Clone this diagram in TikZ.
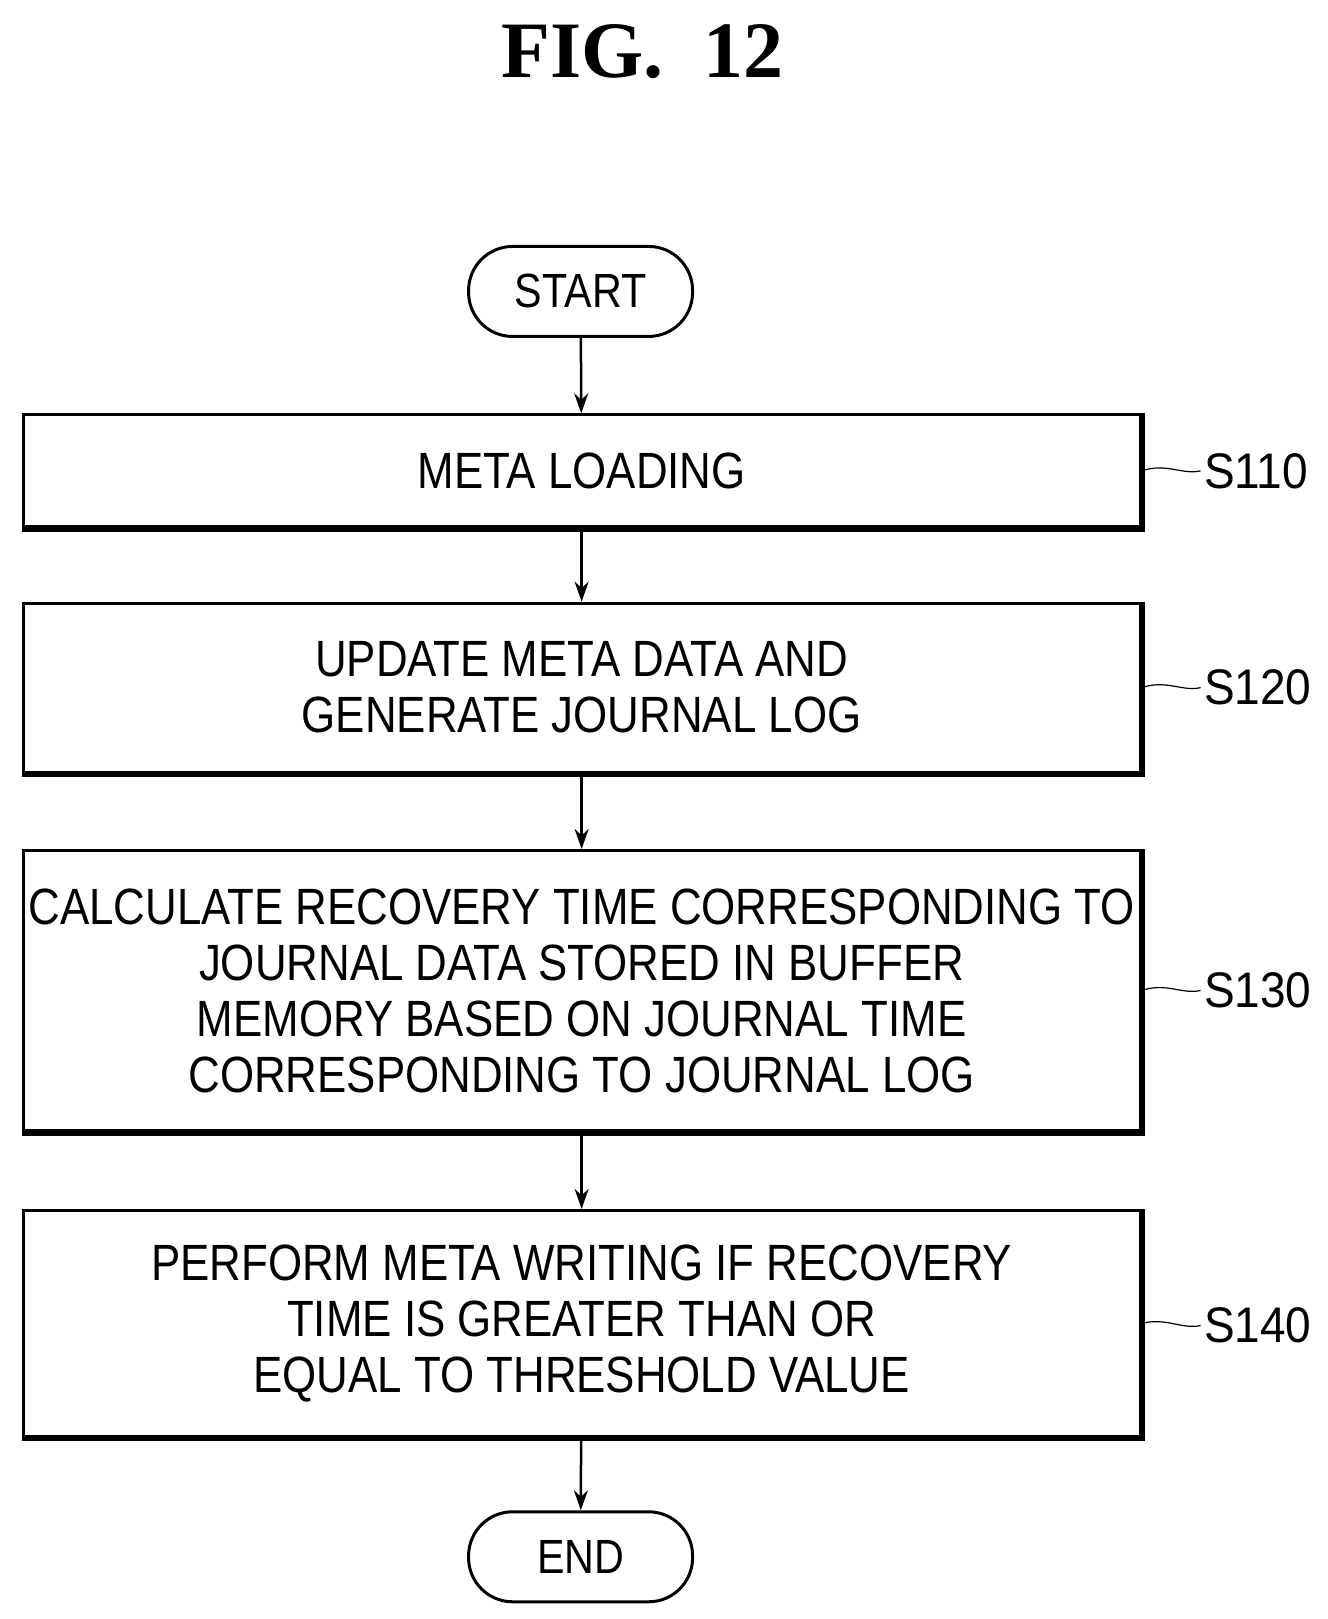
\documentclass[tikz,border=0pt]{standalone}
\usetikzlibrary{arrows.meta}
\usepackage{fontspec}
\setmainfont{Liberation Sans}[FakeStretch=0.86]
\newfontfamily\labfont{Liberation Sans}[FakeStretch=0.92]
\newfontfamily\titlefont{Liberation Serif}
\begin{document}
\begin{tikzpicture}[x=1.0367pt,y=-1.0371pt,
  box/.style={draw,line width=3pt,minimum width=1117pt,inner sep=0pt,align=center,font=\fontsize{51}{56}\selectfont},
  term/.style={draw,line width=3pt,rounded corners=44pt,minimum width=224pt,minimum height=90pt,font=\fontsize{48}{52}\selectfont},
  lab/.style={font=\labfont\fontsize{50}{52}\selectfont},
  arr/.style={line width=2.5pt,-{Stealth[length=20pt,width=14pt]}}]
\useasboundingbox (0,0) rectangle (1280,1561);
\node[font=\titlefont\bfseries\fontsize{80}{80}\selectfont] (title) at (620,50) {FIG.\ \ 12};
\node[term] (start) at (560,281) {START};
\node[box,minimum height=112pt] (s110) at (561,454) {META LOADING};
\node[box,minimum height=169pt] (s120) at (561,663) {UPDATE META DATA AND\\GENERATE JOURNAL LOG};
\node[box,minimum height=280pt] (s130) at (561,955) {CALCULATE RECOVERY TIME CORRESPONDING TO\\JOURNAL DATA STORED IN BUFFER\\MEMORY BASED ON JOURNAL TIME\\CORRESPONDING TO JOURNAL LOG};
\node[box,minimum height=226pt] (s140) at (561,1276) {PERFORM META WRITING IF RECOVERY\\TIME IS GREATER THAN OR\\EQUAL TO THRESHOLD VALUE};
\node[term] (end) at (560,1501) {END};
\foreach \n in {s110,s120,s130,s140}{
  \draw[line width=5pt] ([xshift=1pt]\n.north east) -- ([xshift=1pt,yshift=-1pt]\n.south east) -- ([yshift=-1pt]\n.south west);
}
\foreach \n/\t/\y in {s110/S110/454,s120/S120/663,s130/S130/955,s140/S140/1278}{
  \node[lab,anchor=west] (l\n) at (1158,\y) {\t};
  \draw[line width=1.2pt] (\n.east) .. controls (1125,\y-8) and (1140,\y+4) .. (l\n.west);
}
\draw[arr] (start) -- (s110);
\draw[arr] (s110) -- (s120);
\draw[arr] (s120) -- (s130);
\draw[arr] (s130) -- (s140);
\draw[arr] (s140) -- (end);
\end{tikzpicture}
\end{document}
